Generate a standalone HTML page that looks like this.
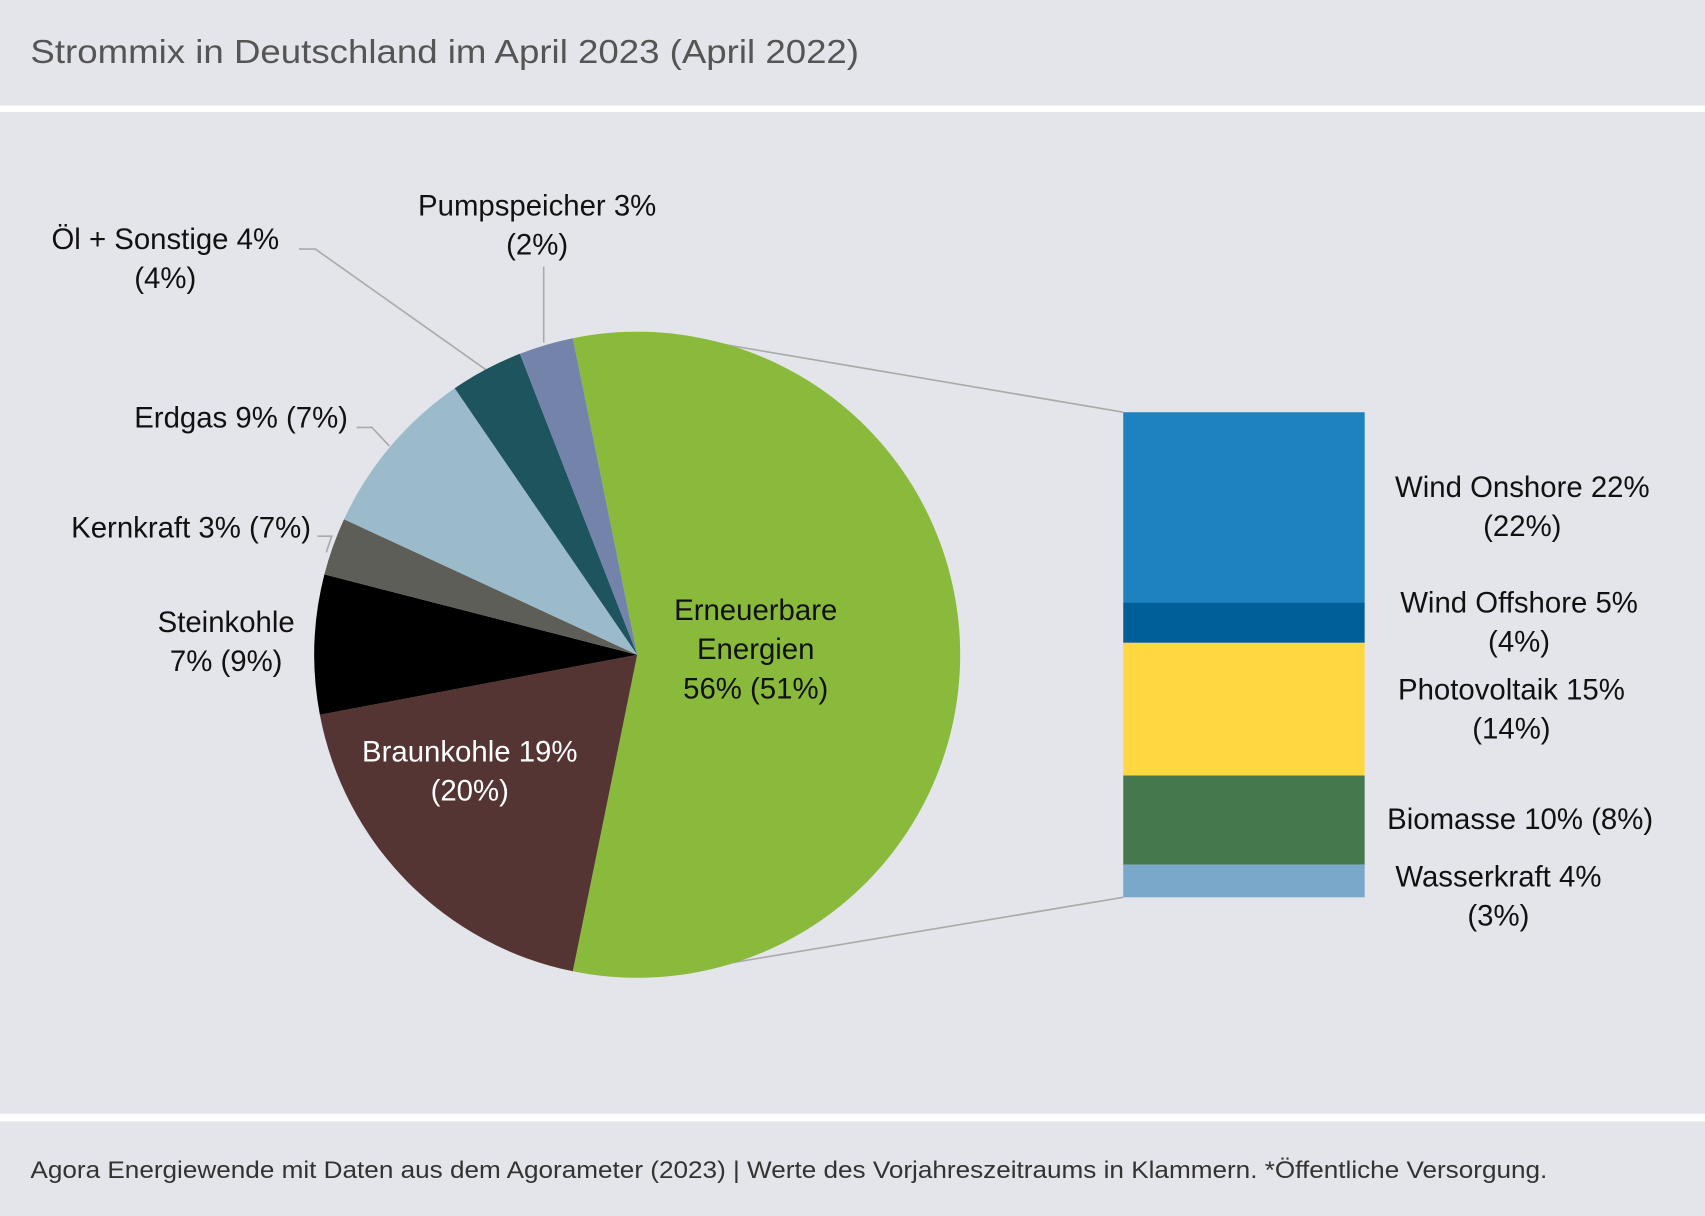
<!DOCTYPE html>
<html><head><meta charset="utf-8"><style>html,body{margin:0;padding:0;background:#e4e5ea}svg{display:block}</style></head>
<body>
<svg width="1705" height="1216" viewBox="0 0 1568 1118" preserveAspectRatio="none" xmlns="http://www.w3.org/2000/svg" font-family="Liberation Sans, sans-serif">
<rect width="1568" height="1118" fill="#e4e5ea"/>
<rect y="97" width="1568" height="6" fill="#fff"/>
<rect y="1024" width="1568" height="7" fill="#fff"/>
<text x="28" y="58" font-size="31" fill="#555" textLength="762" lengthAdjust="spacingAndGlyphs">Strommix in Deutschland im April 2023 (April 2022)</text>
<text x="28" y="1083" font-size="22" fill="#333" textLength="1395" lengthAdjust="spacingAndGlyphs">Agora Energiewende mit Daten aus dem Agorameter (2023) | Werte des Vorjahreszeitraums in Klammern. *Öffentliche Versorgung.</text>
<g stroke="#aaa" stroke-width="1.5" fill="none">
<polyline points="650,314 1033,379"/>
<polyline points="650,889 1033,825"/>
<polyline points="275,229 290,229 447,340"/>
<polyline points="500,245 500,315"/>
<polyline points="328,393 342,393 358,410"/>
<polyline points="292,493 305,493 300,508"/>
</g>
<path d="M586,602 L526.78,310.97 A297,297 0 1 1 526.78,893.03 Z" fill="#8aba3c"/>
<path d="M586,602 L526.78,893.03 A297,297 0 0 1 294.16,657.14 Z" fill="#543533"/>
<path d="M586,602 L294.16,657.14 A297,297 0 0 1 298.33,528.14 Z" fill="#000"/>
<path d="M586,602 L298.33,528.14 A297,297 0 0 1 316.39,477.42 Z" fill="#5e5e58"/>
<path d="M586,602 L316.39,477.42 A297,297 0 0 1 418.20,356.94 Z" fill="#9bbbca"/>
<path d="M586,602 L418.20,356.94 A297,297 0 0 1 478.11,325.29 Z" fill="#1d545e"/>
<path d="M586,602 L478.11,325.29 A297,297 0 0 1 526.78,310.97 Z" fill="#7383aa"/>
<rect x="1033" y="379" width="222" height="175" fill="#1f82c0"/>
<rect x="1033" y="554" width="222" height="37" fill="#005f99"/>
<rect x="1033" y="591" width="222" height="122" fill="#ffd740"/>
<rect x="1033" y="713" width="222" height="82" fill="#46784e"/>
<rect x="1033" y="795" width="222" height="30" fill="#7aa8cb"/>
<g font-size="27" fill="#111" text-anchor="middle">
<text x="494" y="198">Pumpspeicher 3%</text><text x="494" y="234">(2%)</text>
<text x="152" y="229">Öl + Sonstige 4%</text><text x="152" y="265">(4%)</text>
<text x="320" y="393" text-anchor="end">Erdgas 9% (7%)</text>
<text x="286" y="494" text-anchor="end">Kernkraft 3% (7%)</text>
<text x="208" y="581">Steinkohle</text><text x="208" y="617">7% (9%)</text>
<text x="432" y="700" fill="#fff">Braunkohle 19%</text><text x="432" y="736" fill="#fff">(20%)</text>
<text x="695" y="570">Erneuerbare</text><text x="695" y="606">Energien</text><text x="695" y="642">56% (51%)</text>
<text x="1400" y="457">Wind Onshore 22%</text><text x="1400" y="493">(22%)</text>
<text x="1397" y="563">Wind Offshore 5%</text><text x="1397" y="599">(4%)</text>
<text x="1390" y="643">Photovoltaik 15%</text><text x="1390" y="679">(14%)</text>
<text x="1398" y="762">Biomasse 10% (8%)</text>
<text x="1378" y="815">Wasserkraft 4%</text><text x="1378" y="851">(3%)</text>
</g>
</svg>
</body></html>
